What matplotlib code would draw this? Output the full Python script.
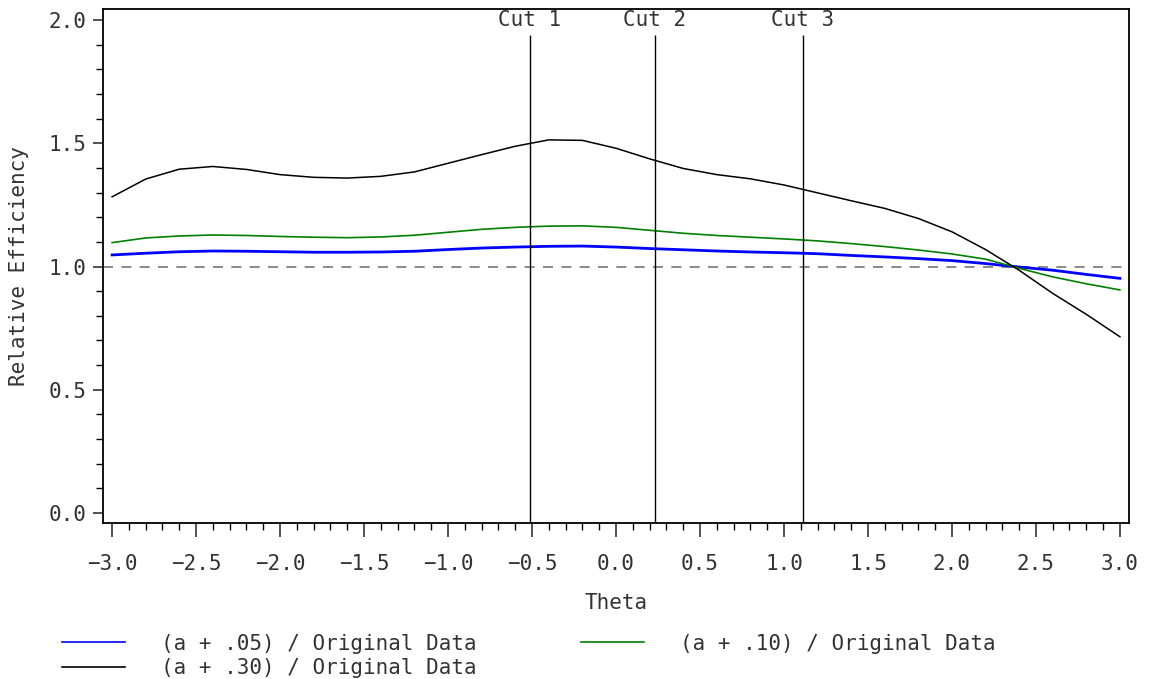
import matplotlib as mpl
mpl.use('Agg')
import matplotlib.pyplot as plt
from matplotlib.ticker import MultipleLocator, FuncFormatter

theta = [-3.0, -2.8, -2.6, -2.4, -2.2, -2.0, -1.8, -1.6, -1.4, -1.2, -1.0,
         -0.8, -0.6, -0.4, -0.2, 0.0, 0.2, 0.4, 0.6, 0.8, 1.0,
         1.2, 1.4, 1.6, 1.8, 2.0, 2.2, 2.4, 2.6, 2.8, 3.0]

eff_05 = [1.047, 1.054, 1.060, 1.063, 1.062, 1.060, 1.058, 1.058, 1.059, 1.062, 1.069,
          1.075, 1.079, 1.082, 1.083, 1.079, 1.073, 1.068, 1.063, 1.059, 1.056,
          1.052, 1.045, 1.039, 1.032, 1.024, 1.012, 0.998, 0.985, 0.968, 0.952]
eff_10 = [1.097, 1.116, 1.124, 1.128, 1.126, 1.122, 1.119, 1.117, 1.120, 1.127, 1.139,
          1.151, 1.159, 1.164, 1.165, 1.159, 1.147, 1.135, 1.126, 1.119, 1.112,
          1.104, 1.093, 1.081, 1.067, 1.051, 1.030, 0.993, 0.958, 0.930, 0.905]
eff_30 = [1.283, 1.355, 1.395, 1.406, 1.394, 1.373, 1.362, 1.359, 1.366, 1.384, 1.419,
          1.454, 1.488, 1.514, 1.512, 1.480, 1.437, 1.398, 1.373, 1.356, 1.331,
          1.299, 1.267, 1.236, 1.195, 1.141, 1.069, 0.985, 0.891, 0.806, 0.715]

cuts = [-0.512, 0.232, 1.113]
cut_labels = ['Cut 1', 'Cut 2', 'Cut 3']

plt.rcParams['font.family'] = 'DejaVu Sans Mono'
fs = 15
col = '#333333'

fig = plt.figure(figsize=(11.5, 6.79), dpi=100)
ax = fig.add_axes([0.0896, 0.2297, 0.8921, 0.757])

l1, = ax.plot(theta, eff_05, color='#0000ff', linewidth=2)
l2, = ax.plot(theta, eff_10, color='#008000', linewidth=1.2)
l3, = ax.plot(theta, eff_30, color='black', linewidth=1.1)

ax.axhline(1.0, color='#777777', linestyle=(0, (6, 5)), linewidth=1.2, zorder=0)

for c, lab in zip(cuts, cut_labels):
    ax.vlines(c, -0.041, 1.94, color='black', linewidth=1)
    ax.text(c, 2.0, lab, ha='center', va='center', fontsize=fs, color=col)

ax.set_xlim(-3.054, 3.054)
ax.set_ylim(-0.041, 2.045)
fmt = FuncFormatter(lambda v, p: ('%.1f' % v).replace('-', '\u2212'))
ax.xaxis.set_major_locator(MultipleLocator(0.5))
ax.xaxis.set_minor_locator(MultipleLocator(0.1))
ax.yaxis.set_major_locator(MultipleLocator(0.5))
ax.yaxis.set_minor_locator(MultipleLocator(0.1))
ax.xaxis.set_major_formatter(fmt)
ax.yaxis.set_major_formatter(fmt)

ax.tick_params(axis='x', which='major', length=10, width=1.2, labelsize=fs, pad=12, colors=col)
ax.tick_params(axis='x', which='minor', length=5, width=1)
ax.tick_params(axis='y', which='major', length=7, width=1.2, labelsize=fs, pad=5, colors=col)
ax.tick_params(axis='y', which='minor', length=5, width=1)
ax.tick_params(labelcolor=col)
for s in ax.spines.values():
    s.set_linewidth(1.3)

ax.set_xlabel('Theta', fontsize=fs, color=col, labelpad=14)
ax.set_ylabel('Relative Efficiency', fontsize=fs, color=col, labelpad=14)

fig.legend([l1, l3, l2],
           ['(a + .05) / Original Data', '(a + .30) / Original Data', '(a + .10) / Original Data'],
           ncol=2, loc='lower left', bbox_to_anchor=(0.038, -0.026), frameon=False,
           fontsize=fs, handlelength=3.0, handletextpad=1.75, columnspacing=5.0,
           labelspacing=0.2, labelcolor=col)
for h in fig.legends[0].get_lines():
    h.set_linewidth(1.2)

fig.savefig('out.png', dpi=100)
